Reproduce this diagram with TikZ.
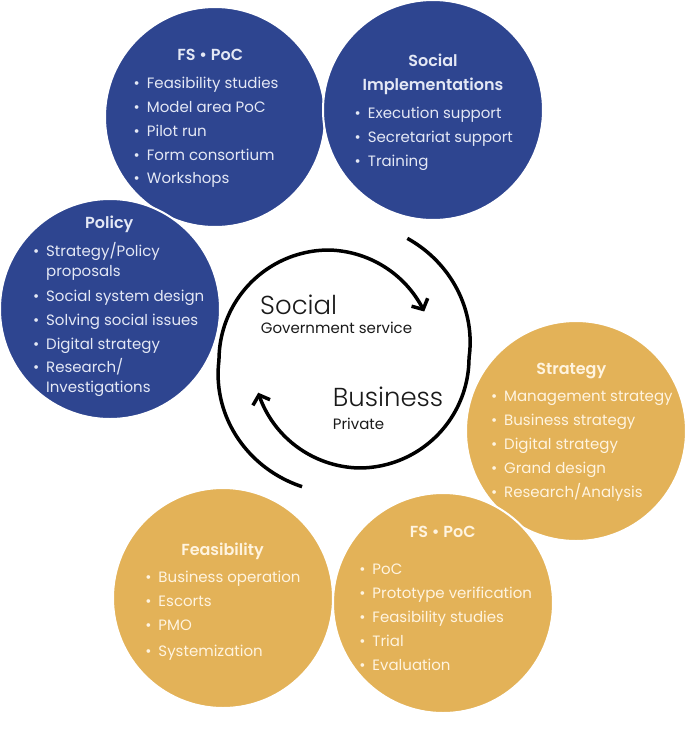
\documentclass[tikz,border=0pt]{standalone}
\usepackage{fontspec}
\setmainfont{Poppins}[BoldFont={Poppins SemiBold}]
\newfontfamily\lightfont{Poppins Light}
\usetikzlibrary{arrows.meta}
\definecolor{cblue}{HTML}{2E4590}
\definecolor{cgold}{HTML}{E3B258}
\definecolor{tblue}{HTML}{E4E8F5}
\definecolor{tgold}{HTML}{FFF4E0}
\definecolor{ink}{HTML}{1A1A1A}
\begin{document}
\begin{tikzpicture}[x=1pt,y=-1pt,
  bubble/.style={circle, minimum size=220pt, inner sep=0pt, draw=white, line width=2pt},
  bluebub/.style={bubble, fill=cblue},
  goldbub/.style={bubble, fill=cgold},
  ttl/.style={font=\fontsize{16}{20}\selectfont\bfseries, anchor=base, inner sep=0pt},
  itm/.style={font=\fontsize{15}{19}\selectfont, anchor=base west, inner sep=0pt},
  onblue/.style={text=tblue},
  ongold/.style={text=tgold},
  big/.style={font=\lightfont\fontsize{26}{30}\selectfont, anchor=base west, inner sep=0pt, text=ink},
  sub/.style={font=\fontsize{15}{18}\selectfont, anchor=base west, inner sep=0pt, text=ink},
  cyc/.style={line width=3.5pt, draw=black, -{Straight Barb[length=8pt,width=18pt]}},
  declare function={ra(\t)=110+0.25*max(\t-180,0)-0.05*max(90-\t,0);
                    rb(\t)=110+0.28*max(\t,0)-0.048*max(-90-\t,0);}
]
\useasboundingbox (0,0) rectangle (686,732);
\newcommand{\bul}{\llap{\textbullet\hspace{7pt}}}

% bubbles
\node[bluebub] (fsb) at (215,117) {};
\node[bluebub] (soc) at (433,110) {};
\node[bluebub] (pol) at (110,309) {};
\node[goldbub] (str) at (576,431) {};
\node[goldbub] (fsg) at (443,603) {};
\node[goldbub] (fea) at (223,598) {};

% FS PoC (blue)
\node[ttl,onblue] (fsbt) at (210.3,60) {FS \textbullet{} PoC};
\foreach \t [count=\i] in {Feasibility studies, Model area PoC, Pilot run, Form consortium, Workshops}
  \node[itm,onblue] (fsb\i) at (146.7,{88.3+23.9*(\i-1)}) {\bul\t};

% Social implementations
\node[ttl,onblue] (soct1) at (433,66) {Social};
\node[ttl,onblue] (soct2) at (433,90) {Implementations};
\foreach \t [count=\i] in {Execution support, Secretariat support, Training}
  \node[itm,onblue] (soc\i) at (367.7,{118.3+24.2*(\i-1)}) {\bul\t};

% Policy
\node[ttl,onblue] (polt) at (109.3,228.3) {Policy};
\node[itm,onblue] (pol1) at (46,256.7) {\bul Strategy/Policy};
\node[itm,onblue] (pol1b) at (46,276.3) {proposals};
\node[itm,onblue] (pol2) at (46,301) {\bul Social system design};
\node[itm,onblue] (pol3) at (46,325) {\bul Solving social issues};
\node[itm,onblue] (pol4) at (46,349.3) {\bul Digital strategy};
\node[itm,onblue] (pol5) at (46,372.7) {\bul Research/};
\node[itm,onblue] (pol5b) at (46,392.3) {Investigations};

% Strategy
\node[ttl,ongold] (strt) at (571.3,374) {Strategy};
\foreach \t [count=\i] in {Management strategy, Business strategy, Digital strategy, Grand design, Research/Analysis}
  \node[itm,ongold] (str\i) at (504,{401.7+23.9*(\i-1)}) {\bul\t};

% FS PoC (gold)
\node[ttl,ongold] (fsgt) at (442.7,537.7) {FS \textbullet{} PoC};
\foreach \t [count=\i] in {PoC, Prototype verification, Feasibility studies, Trial, Evaluation}
  \node[itm,ongold] (fsg\i) at (372.3,{574+24*(\i-1)}) {\bul\t};

% Feasibility
\node[ttl,ongold] (feat) at (222.5,555) {Feasibility};
\node[itm,ongold] (fea1) at (158.3,582.7) {\bul Business operation};
\node[itm,ongold] (fea2) at (158.3,606.7) {\bul Escorts};
\node[itm,ongold] (fea3) at (158.3,630.7) {\bul PMO};
\node[itm,ongold] (fea4) at (158.3,656.7) {\bul Systemization};

% centre
\node[big] (cs) at (260,314.3) {Social};
\node[sub] (cg) at (260.7,333.3) {Government service};
\node[big] (cb) at (332.7,406.7) {Business};
\node[sub] (cp) at (332.7,429.3) {Private};

\draw[cyc] plot[domain=258:27, samples=150, variable=\t] ({329+ra(\t)*cos(\t)}, {360-ra(\t)*sin(\t)});
\draw[cyc] plot[domain=68:-161, samples=150, variable=\t] ({359+rb(\t)*cos(\t)}, {358-rb(\t)*sin(\t)});
\end{tikzpicture}
\end{document}
